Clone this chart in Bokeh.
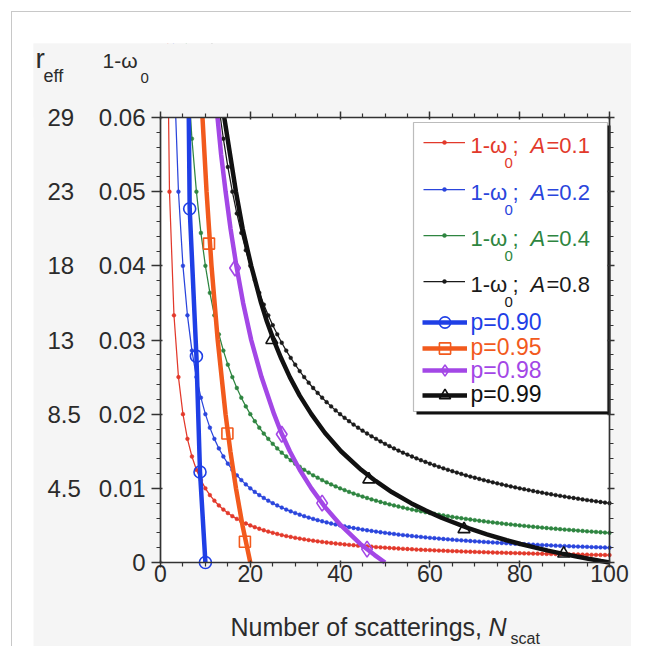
from bokeh.plotting import figure
from bokeh.models import (Range1d, LinearAxis, FixedTicker, Label, BoxAnnotation,
                          Legend, LegendItem)
from bokeh.layouts import column
from bokeh.embed import file_html
from bokeh.resources import INLINE
from bokeh.core.properties import value

# ---------------- data ----------------
N_scat = list(range(1, 101))

one_minus_w0_A01 = [
    0.1, 0.05, 0.03333, 0.025, 0.02, 0.01667, 0.01429, 0.0125, 0.01111, 0.01,
    0.00909, 0.00833, 0.00769, 0.00714, 0.00667, 0.00625, 0.00588, 0.00556, 0.00526, 0.005,
    0.00476, 0.00455, 0.00435, 0.00417, 0.004, 0.00385, 0.0037, 0.00357, 0.00345, 0.00333,
    0.00323, 0.00313, 0.00303, 0.00294, 0.00286, 0.00278, 0.0027, 0.00263, 0.00256, 0.0025,
    0.00244, 0.00238, 0.00233, 0.00227, 0.00222, 0.00217, 0.00213, 0.00208, 0.00204, 0.002,
    0.00196, 0.00192, 0.00189, 0.00185, 0.00182, 0.00179, 0.00175, 0.00172, 0.00169, 0.00167,
    0.00164, 0.00161, 0.00159, 0.00156, 0.00154, 0.00152, 0.00149, 0.00147, 0.00145, 0.00143,
    0.00141, 0.00139, 0.00137, 0.00135, 0.00133, 0.00132, 0.0013, 0.00128, 0.00127, 0.00125,
    0.00123, 0.00122, 0.0012, 0.00119, 0.00118, 0.00116, 0.00115, 0.00114, 0.00112, 0.00111,
    0.0011, 0.00109, 0.00108, 0.00106, 0.00105, 0.00104, 0.00103, 0.00102, 0.00101, 0.001]

one_minus_w0_A02 = [
    0.2, 0.1, 0.06667, 0.05, 0.04, 0.03333, 0.02857, 0.025, 0.02222, 0.02,
    0.01818, 0.01667, 0.01538, 0.01429, 0.01333, 0.0125, 0.01176, 0.01111, 0.01053, 0.01,
    0.00952, 0.00909, 0.0087, 0.00833, 0.008, 0.00769, 0.00741, 0.00714, 0.0069, 0.00667,
    0.00645, 0.00625, 0.00606, 0.00588, 0.00571, 0.00556, 0.00541, 0.00526, 0.00513, 0.005,
    0.00488, 0.00476, 0.00465, 0.00455, 0.00444, 0.00435, 0.00426, 0.00417, 0.00408, 0.004,
    0.00392, 0.00385, 0.00377, 0.0037, 0.00364, 0.00357, 0.00351, 0.00345, 0.00339, 0.00333,
    0.00328, 0.00323, 0.00317, 0.00313, 0.00308, 0.00303, 0.00299, 0.00294, 0.0029, 0.00286,
    0.00282, 0.00278, 0.00274, 0.0027, 0.00267, 0.00263, 0.0026, 0.00256, 0.00253, 0.0025,
    0.00247, 0.00244, 0.00241, 0.00238, 0.00235, 0.00233, 0.0023, 0.00227, 0.00225, 0.00222,
    0.0022, 0.00217, 0.00215, 0.00213, 0.00211, 0.00208, 0.00206, 0.00204, 0.00202, 0.002]

one_minus_w0_A04 = [
    0.4, 0.2, 0.1333, 0.1, 0.08, 0.06667, 0.05714, 0.05, 0.04444, 0.04,
    0.03636, 0.03333, 0.03077, 0.02857, 0.02667, 0.025, 0.02353, 0.02222, 0.02105, 0.02,
    0.01905, 0.01818, 0.01739, 0.01667, 0.016, 0.01538, 0.01481, 0.01429, 0.01379, 0.01333,
    0.0129, 0.0125, 0.01212, 0.01176, 0.01143, 0.01111, 0.01081, 0.01053, 0.01026, 0.01,
    0.00976, 0.00952, 0.0093, 0.00909, 0.00889, 0.0087, 0.00851, 0.00833, 0.00816, 0.008,
    0.00784, 0.00769, 0.00755, 0.00741, 0.00727, 0.00714, 0.00702, 0.0069, 0.00678, 0.00667,
    0.00656, 0.00645, 0.00635, 0.00625, 0.00615, 0.00606, 0.00597, 0.00588, 0.0058, 0.00571,
    0.00563, 0.00556, 0.00548, 0.00541, 0.00533, 0.00526, 0.00519, 0.00513, 0.00506, 0.005,
    0.00494, 0.00488, 0.00482, 0.00476, 0.00471, 0.00465, 0.0046, 0.00455, 0.00449, 0.00444,
    0.0044, 0.00435, 0.0043, 0.00426, 0.00421, 0.00417, 0.00412, 0.00408, 0.00404, 0.004]

one_minus_w0_A08 = [
    0.8, 0.4, 0.2667, 0.2, 0.16, 0.1333, 0.1143, 0.1, 0.08889, 0.08,
    0.07273, 0.06667, 0.06154, 0.05714, 0.05333, 0.05, 0.04706, 0.04444, 0.04211, 0.04,
    0.0381, 0.03636, 0.03478, 0.03333, 0.032, 0.03077, 0.02963, 0.02857, 0.02759, 0.02667,
    0.02581, 0.025, 0.02424, 0.02353, 0.02286, 0.02222, 0.02162, 0.02105, 0.02051, 0.02,
    0.01951, 0.01905, 0.0186, 0.01818, 0.01778, 0.01739, 0.01702, 0.01667, 0.01633, 0.016,
    0.01569, 0.01538, 0.01509, 0.01481, 0.01455, 0.01429, 0.01404, 0.01379, 0.01356, 0.01333,
    0.01311, 0.0129, 0.0127, 0.0125, 0.01231, 0.01212, 0.01194, 0.01176, 0.01159, 0.01143,
    0.01127, 0.01111, 0.01096, 0.01081, 0.01067, 0.01053, 0.01039, 0.01026, 0.01013, 0.01,
    0.00988, 0.00976, 0.00964, 0.00952, 0.00941, 0.0093, 0.0092, 0.00909, 0.00899, 0.00889,
    0.00879, 0.0087, 0.0086, 0.00851, 0.00842, 0.00833, 0.00825, 0.00816, 0.00808, 0.008]

p090_N = [6.3, 6.5, 8.0, 8.8, 10.0]
p090_y = [0.06, 0.0477, 0.0278, 0.0122, 0.0]
p090_mark_N = [6.5, 8.0, 8.8, 10.0]
p090_mark_y = [0.0477, 0.0278, 0.0122, 0.0]

p095_N = [9.35, 10.26, 11.36, 12.74, 14.49, 15.56, 16.81, 18.26, 20.0]
p095_y = [0.06, 0.05, 0.04, 0.03, 0.02, 0.015, 0.01, 0.005, 0.0]
p095_mark_N = [10.8, 14.9, 18.8]
p095_mark_y = [0.0430, 0.0174, 0.0028]

p098_N = [12.7, 13.5, 14.5, 15.6, 16.9, 18.4, 20.2, 22.5, 25.3, 26.9, 28.8, 31.0, 33.6, 36.6,
          40.2, 44.5, 47.7, 50.0]
p098_y = [0.06, 0.055, 0.05, 0.045, 0.04, 0.035, 0.03, 0.025, 0.02, 0.0175, 0.015, 0.0125,
          0.01, 0.0075, 0.005, 0.0025, 0.001, 0.0]
p098_mark_N = [16.6, 27.0, 36.0, 46.0]
p098_mark_y = [0.0397, 0.0173, 0.0080, 0.0018]

p099_N = [14.2, 15.5, 16.8, 18.3, 20.2, 22.4, 23.7, 25.2, 26.9, 28.8, 31.0, 33.6, 36.6, 40.2,
          44.7, 47.9, 51.5, 55.8, 59.1, 62.7, 68.7, 72.7, 77.1, 80.2, 83.5, 86.3, 89.4, 92.7,
          95.3, 98.1, 100.0]
p099_y = [0.06, 0.055, 0.05, 0.045, 0.04, 0.035, 0.0325, 0.03, 0.0275, 0.025, 0.0225, 0.02,
          0.0175, 0.015, 0.0125, 0.011, 0.0095, 0.008, 0.007, 0.006, 0.0046, 0.0038, 0.003,
          0.0025, 0.002, 0.0016, 0.0012, 0.0008, 0.0005, 0.0002, 0.0]
p099_mark_N = [24.8, 46.4, 67.6, 89.8]
p099_mark_y = [0.0300, 0.0112, 0.0045, 0.0012]

x_ticks = [0, 20, 40, 60, 80, 100]
x_tick_labels = ["0", "20", "40", "60", "80", "100"]
x_minor = [5, 10, 15, 25, 30, 35, 45, 50, 55, 65, 70, 75, 85, 90, 95]
y_ticks = [0, 0.01, 0.02, 0.03, 0.04, 0.05, 0.06]
y_tick_labels = ["0", "0.01", "0.02", "0.03", "0.04", "0.05", "0.06"]
y_minor = [0.002, 0.004, 0.006, 0.008, 0.012, 0.014, 0.016, 0.018, 0.022, 0.024, 0.026, 0.028,
           0.032, 0.034, 0.036, 0.038, 0.042, 0.044, 0.046, 0.048, 0.052, 0.054, 0.056, 0.058]
reff_ticks = [0.01, 0.02, 0.03, 0.04, 0.05, 0.06]
reff_labels = ["4.5", "8.5", "13", "18", "23", "29"]
A_labels = ["0.1", "0.2", "0.4", "0.8"]
p_labels = ["p=0.90", "p=0.95", "p=0.98", "p=0.99"]

# ---------------- layout / styles ----------------
FONT = "Liberation Sans"
TXT = "#2b2b2b"
AX = "#333333"
GRAY = "#f5f5f5"
thin_colors = ["#e2392b", "#2a45dc", "#2e8540", "#1a1a1a"]
thick_colors = ["#1f3fe6", "#f25a1d", "#a347e6", "#111111"]

# page-pixel geometry: canvas and the data box (x 0..100, y 0..0.06)
CX0, CY0, CW, CH = 33, 43, 598, 603
PX_L, PX_R, PY_B, PY_T = 160, 609, 562, 117
sx_per = (PX_R - PX_L) / 100.0
sy_per = (PY_B - PY_T) / 0.06
x_start = (CX0 - PX_L) / sx_per
x_end = (CX0 + CW - PX_L) / sx_per
y_start = (PY_B - (CY0 + CH)) / sy_per
y_end = (PY_B - CY0) / sy_per

def SX(X):
    return X - CX0

def SY(Y):
    return (CY0 + CH) - Y

p = figure(width=CW, height=CH, x_range=Range1d(x_start, x_end), y_range=Range1d(y_start, y_end),
           output_backend="svg", toolbar_location=None,
           x_axis_location=None, y_axis_location=None,
           min_border_left=0, min_border_right=0, min_border_top=0, min_border_bottom=0)
p.background_fill_color = GRAY
p.border_fill_color = GRAY
p.outline_line_color = None
p.xgrid.visible = False
p.ygrid.visible = False
p.title.visible = False
p.styles = {"overflow": "hidden"}

# white plotting box
p.add_layout(BoxAnnotation(left=0, right=100, bottom=0, top=0.06, fill_color="white",
                           fill_alpha=1, line_color=None, level="underlay"))

def style_axis(ax, tick_out, minor_out, size, labels=True):
    ax.level = "overlay"
    ax.axis_line_color = AX
    ax.axis_line_width = 1.7
    ax.major_tick_line_color = AX
    ax.minor_tick_line_color = AX
    ax.major_tick_line_width = 1.5
    ax.minor_tick_line_width = 1.2
    ax.major_tick_out = tick_out
    ax.major_tick_in = 2
    ax.minor_tick_out = minor_out
    ax.minor_tick_in = 0
    ax.major_label_text_font = FONT
    ax.major_label_text_font_size = f"{size}px"
    ax.major_label_text_color = TXT if labels else None

# ---------------- curves ----------------
thin_series = [one_minus_w0_A01, one_minus_w0_A02, one_minus_w0_A04, one_minus_w0_A08]
thin_r = []
for ys, c in zip(thin_series, thin_colors):
    l = p.line(N_scat, ys, line_color=c, line_width=1.25)
    d = p.scatter(N_scat, ys, marker="circle", size=3.8, line_color=c, fill_color=c, line_width=0.5)
    thin_r.append([l, d])

thick_specs = [
    (p090_N, p090_y, p090_mark_N, p090_mark_y, "circle", 12),
    (p095_N, p095_y, p095_mark_N, p095_mark_y, "square", 11),
    (p098_N, p098_y, p098_mark_N, p098_mark_y, "diamond", 16),
    (p099_N, p099_y, p099_mark_N, p099_mark_y, "triangle", 12),
]
thick_r = []
for (xs, ys, mx, my, mk, sz), c in zip(thick_specs, thick_colors):
    l = p.line(xs, ys, line_color=c, line_width=4.5)
    m = p.scatter(mx, my, marker=mk, size=sz, line_color=c, fill_color=None, line_width=1.6)
    thick_r.append([l, m])

# mask hiding the parts of the curves above the box (y > 0.06); same clipping as the curves
p.quad(left=[x_start - 10], right=[x_end + 10], bottom=[0.06], top=[y_end + 0.05],
       fill_color=GRAY, line_color=None)

# ---------------- axes (drawn on the box edges) ----------------
xa = LinearAxis(fixed_location=0, bounds=(0, 100),
                ticker=FixedTicker(ticks=x_ticks, minor_ticks=x_minor),
                major_label_overrides=dict(zip(x_ticks, x_tick_labels)))
style_axis(xa, 5, 4, 23)
xa.major_label_standoff = -3
p.add_layout(xa, "below")

ya = LinearAxis(fixed_location=0, bounds=(0, 0.06),
                ticker=FixedTicker(ticks=y_ticks, minor_ticks=y_minor),
                major_label_overrides=dict(zip(y_ticks, y_tick_labels)))
style_axis(ya, 9, 4, 24)
ya.major_label_standoff = 6
p.add_layout(ya, "left")

top = LinearAxis(fixed_location=0.06, bounds=(0, 100),
                 ticker=FixedTicker(ticks=x_ticks, minor_ticks=x_minor),
                 major_label_overrides={t: "" for t in x_ticks})
style_axis(top, 6, 4, 23, labels=False)
p.add_layout(top, "above")

right = LinearAxis(fixed_location=100, bounds=(0, 0.06),
                   ticker=FixedTicker(ticks=y_ticks, minor_ticks=y_minor),
                   major_label_overrides={t: "" for t in y_ticks})
style_axis(right, 5, 4, 23, labels=False)
p.add_layout(right, "right")

# strip along the very top edge of the canvas, kept clean
p.add_layout(BoxAnnotation(left=SX(150), right=SX(320), bottom=SY(50), top=SY(20),
                           left_units="screen", right_units="screen", top_units="screen",
                           bottom_units="screen", fill_color=GRAY, fill_alpha=1,
                           line_color=None, level="overlay"))

# ---------------- legend ----------------
p.add_layout(BoxAnnotation(left=SX(416), right=SX(610), top=SY(125), bottom=SY(414),
                           left_units="screen", right_units="screen", top_units="screen",
                           bottom_units="screen", fill_color="#111111", fill_alpha=1,
                           line_color=None))
p.add_layout(BoxAnnotation(left=SX(413), right=SX(607), top=SY(122), bottom=SY(411),
                           left_units="screen", right_units="screen", top_units="screen",
                           bottom_units="screen", fill_color="white", fill_alpha=1,
                           line_color="#222222", line_width=1.2))

def legend_sample(renderers, x_left, y_center, gw, gh):
    lg = Legend(items=[LegendItem(label=value(""), renderers=renderers)],
                location=(SX(x_left), SY(y_center) - gh / 2),
                glyph_width=gw, glyph_height=gh, label_height=gh, label_width=0,
                label_standoff=0, padding=0, margin=0, spacing=0,
                border_line_color=None, background_fill_alpha=0,
                label_text_font_size="1px")
    p.add_layout(lg)

def add_text(txt, X, base, size, color=TXT, style="normal", align="left"):
    # text placed by its alphabetic baseline "base" (page px); drawn with middle anchor
    yc = base - 0.36 * size
    p.add_layout(Label(x=SX(X), y=SY(yc), x_units="screen", y_units="screen", text=txt,
                       text_font=FONT, text_font_size=f"{size}px", text_color=color,
                       text_font_style=style, text_align=align, text_baseline="middle"))

thin_centers = [142, 189, 235, 281]
thin_bases = [153, 200, 246, 292]
for rends, c, yc, base, a in zip(thin_r, thin_colors, thin_centers, thin_bases, A_labels):
    legend_sample(rends, 423, yc, 42, 10)
    add_text("1-ω", 470, base, 22, c)
    add_text("0", 504, base + 15, 15, c)
    add_text(";", 512, base, 22, c)
    add_text("A", 530, base, 22, c, style="italic")
    add_text("=" + a, 546, base, 22, c)

thick_centers = [322, 348, 370, 395]
thick_bases = [330, 355, 378, 402]
for rends, c, yc, base, lab in zip(thick_r, thick_colors, thick_centers, thick_bases, p_labels):
    legend_sample(rends, 422, yc, 45, 28)
    add_text(lab, 470, base, 23, c)

# ---------------- outer texts ----------------
add_text("r", 35, 68, 28)
add_text("eff", 43, 82, 18)
add_text("1-ω", 102, 68, 21)
add_text("0", 140, 83, 15)
for t, lab in zip(reff_ticks, reff_labels):
    p.add_layout(Label(x=SX(47), y=t, x_units="screen", y_units="data", text=lab,
                       text_font=FONT, text_font_size="24px", text_color=TXT,
                       text_align="left", text_baseline="middle"))
add_text("Number of scatterings, ", 230, 635, 25)
add_text("N", 488, 635, 25, style="italic")
add_text("scat", 510, 644, 16)

layout = column(p, styles={"margin-left": "11px", "margin-top": "11px",
                           "border-left": "1px solid #c8c8c8", "border-top": "1px solid #c8c8c8",
                           "padding-left": "21px", "padding-top": "31px",
                           "background-color": "white", "overflow": "hidden"})

open("out.html", "w").write(file_html(layout, INLINE))
